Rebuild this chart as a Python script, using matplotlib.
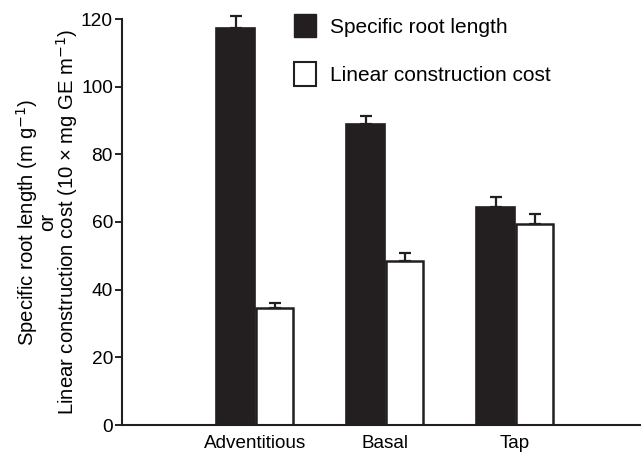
import matplotlib
matplotlib.use("Agg")
import matplotlib.pyplot as plt
import numpy as np
from matplotlib.patches import Patch

plt.rcParams['font.family'] = ['Liberation Sans', 'DejaVu Sans']

categories = ["Adventitious", "Basal", "Tap"]
srl = [117.3, 89.0, 64.5]
srl_err = [3.6, 2.3, 2.8]
lcc = [34.5, 48.6, 59.3]
lcc_err = [1.5, 2.1, 3.0]
yticks = [0, 20, 40, 60, 80, 100, 120]

dark = "#231f20"
fig = plt.figure(figsize=(6.41, 4.55), dpi=100)
ax = fig.add_axes([122/641, 30/455, 1 - 122/641, 406/455])

x = np.arange(len(categories))
w = 0.3
ax.bar(x - w/2, srl, w, color=dark, edgecolor=dark, linewidth=1.2, zorder=2)
ax.bar(x + w/2, lcc, w*0.97, color="white", edgecolor=dark, linewidth=1.8, zorder=2)
ax.errorbar(x - w/2, srl, yerr=[np.zeros(3), srl_err], fmt="none", ecolor=dark,
            elinewidth=1.6, capsize=4, capthick=1.6, clip_on=False, zorder=3)
ax.errorbar(x + w/2, lcc, yerr=[np.zeros(3), lcc_err], fmt="none", ecolor=dark,
            elinewidth=1.6, capsize=4, capthick=1.6, clip_on=False, zorder=3)

ax.set_xlim((122-255)/130, (641-255)/130)
ax.set_ylim(0, 120)
ax.set_yticks(yticks)
ax.set_xticks(x)
ax.set_xticklabels(categories, fontsize=13.6)
ax.tick_params(axis='x', length=0, pad=7)
ax.tick_params(axis='y', length=5, width=1.2, labelsize=13.8, direction='out', pad=1.5)
for s in ["top", "right"]:
    ax.spines[s].set_visible(False)
for s in ["left", "bottom"]:
    ax.spines[s].set_linewidth(1.5)
    ax.spines[s].set_color(dark)

ax.set_ylabel("Specific root length (m g$^{-1}$)\nor\nLinear construction cost (10 \u00d7 mg GE m$^{-1}$)",
              fontsize=14.6, linespacing=0.85, labelpad=1)

handles = [Patch(facecolor=dark, edgecolor=dark), Patch(facecolor="white", edgecolor=dark, linewidth=1.5)]
fig.legend(handles, ["Specific root length", "Linear construction cost"],
           loc="upper left", bbox_to_anchor=(294/641, 1 - 14/455), frameon=False,
           fontsize=15, handlelength=1.06, handleheight=1.35, handletextpad=0.67,
           labelspacing=1.2, borderpad=0, borderaxespad=0)

fig.savefig("out.png", dpi=100)
